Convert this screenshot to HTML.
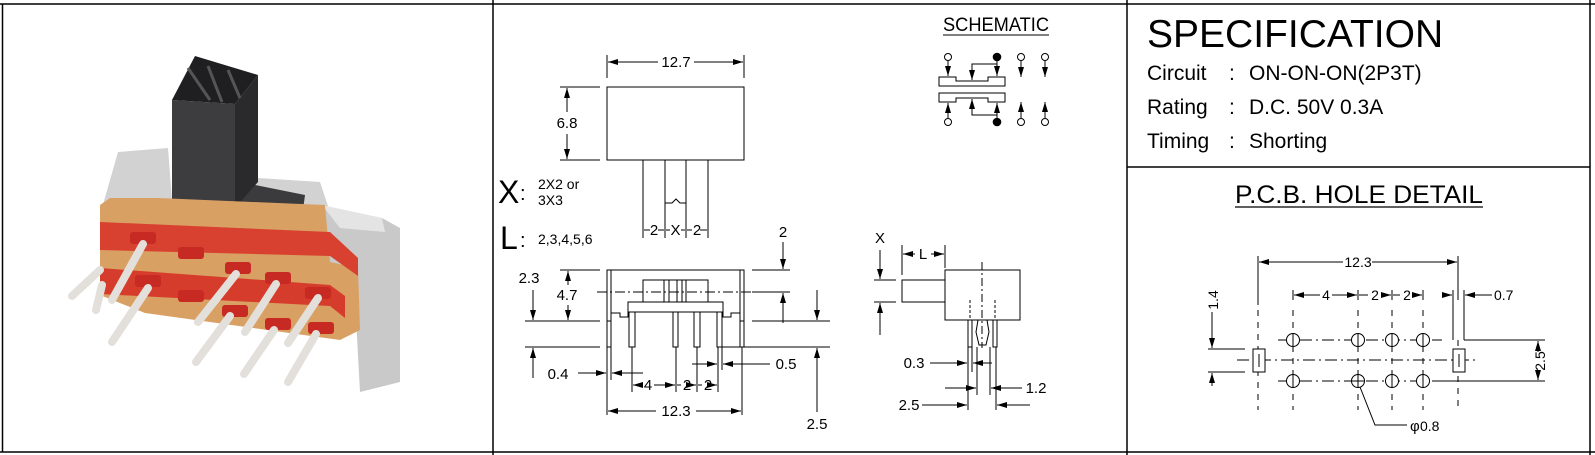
<!DOCTYPE html>
<html><head><meta charset="utf-8"><style>
html,body{margin:0;padding:0;background:#fff;}
svg{display:block;font-family:"Liberation Sans",sans-serif;}
</style></head><body>
<svg width="1595" height="455" viewBox="0 0 1595 455" xmlns="http://www.w3.org/2000/svg">
<defs>
<marker id="a" viewBox="0 0 10 6" refX="10" refY="3" markerWidth="10" markerHeight="6" orient="auto-start-reverse" markerUnits="userSpaceOnUse"><path d="M0,0 L10,3 L0,6 z" fill="#000"/></marker>
</defs>
<g stroke="#000" stroke-width="1.5" fill="none">
<line x1="0" y1="4" x2="1595" y2="4"/><line x1="0" y1="452" x2="1595" y2="452"/>
<line x1="2.5" y1="4" x2="2.5" y2="452"/><line x1="493" y1="0" x2="493" y2="455"/>
<line x1="1127" y1="0" x2="1127" y2="455"/><line x1="1590" y1="0" x2="1590" y2="455"/>
<line x1="1127" y1="167" x2="1590" y2="167"/>
</g>

<!-- PHOTO -->
<g>
<polygon points="100,215 118,152 168,148 172,200 258,178 320,182 330,212 100,222" fill="#d2d2d2"/>
<polygon points="240,182 305,195 300,232 240,225" fill="#3b3b3d"/>
<polygon points="172,100 235,104 235,208 172,203" fill="#3d3d40"/>
<polygon points="235,104 258,75 258,182 235,208" fill="#2a2a2c"/>
<polygon points="172,100 195,56 258,75 235,104" fill="#1f1f21"/>
<g stroke="#555" stroke-width="3"><line x1="188" y1="68" x2="210" y2="100"/><line x1="208" y1="66" x2="222" y2="102"/><line x1="228" y1="70" x2="240" y2="98"/></g>
<polygon points="318,205 382,218 400,228 400,382 360,392 355,300 325,262" fill="#c9c9c9"/>
<polygon points="322,205 382,218 385,232 340,228" fill="#e4e4e4"/>
<polygon points="100,205 110,198 158,198 325,205 330,262 358,268 360,330 340,340 145,313 100,295" fill="#d9a064"/>
<polygon points="100,222 330,232 358,258 358,276 330,256 100,250" fill="#d8412f"/>
<polygon points="100,268 330,285 345,296 345,318 330,306 100,294" fill="#d63c2c"/>
<g fill="#c62a22">
<rect x="130" y="232" width="26" height="12" rx="3"/><rect x="178" y="247" width="26" height="12" rx="3"/><rect x="225" y="262" width="26" height="12" rx="3"/><rect x="265" y="272" width="26" height="12" rx="3"/><rect x="305" y="287" width="26" height="12" rx="3"/>
<rect x="135" y="275" width="26" height="12" rx="3"/><rect x="178" y="290" width="26" height="12" rx="3"/><rect x="222" y="305" width="26" height="12" rx="3"/><rect x="265" y="318" width="26" height="12" rx="3"/><rect x="308" y="322" width="26" height="12" rx="3"/>
</g>
<g stroke="#e3e0dc" stroke-width="8" stroke-linecap="round">
<line x1="143" y1="244" x2="112" y2="300"/><line x1="148" y1="288" x2="112" y2="342"/>
<line x1="236" y1="274" x2="198" y2="322"/><line x1="230" y1="316" x2="196" y2="362"/>
<line x1="276" y1="284" x2="245" y2="332"/><line x1="274" y1="330" x2="244" y2="374"/>
<line x1="318" y1="298" x2="288" y2="343"/><line x1="316" y1="334" x2="288" y2="382"/>
<line x1="100" y1="270" x2="72" y2="296"/><line x1="102" y1="285" x2="96" y2="310"/>
</g>
</g>

<!-- MIDDLE DRAWING -->
<g stroke="#000" stroke-width="1" fill="none">
<rect x="607" y="87" width="137" height="73"/>
<line x1="607" y1="55" x2="607" y2="78"/><line x1="744" y1="55" x2="744" y2="78"/>
<line x1="608" y1="62" x2="658" y2="62" marker-start="url(#a)"/><line x1="694" y1="62" x2="743" y2="62" marker-end="url(#a)"/>
<line x1="560" y1="87" x2="600" y2="87"/><line x1="560" y1="160" x2="600" y2="160"/>
<line x1="567" y1="88" x2="567" y2="112" marker-start="url(#a)"/><line x1="567" y1="134" x2="567" y2="159" marker-end="url(#a)"/>
<line x1="643" y1="160" x2="643" y2="238"/><line x1="708" y1="160" x2="708" y2="238"/>
<polyline points="665,160 665,203 672,203 676,199 680,203 686,203 686,160"/>
<line x1="665" y1="203" x2="665" y2="238"/><line x1="686" y1="203" x2="686" y2="238"/>
<line x1="644" y1="230" x2="650" y2="230"/><line x1="658" y1="230" x2="664" y2="230"/><line x1="666" y1="230" x2="670" y2="230"/><line x1="681" y1="230" x2="685" y2="230"/><line x1="687" y1="230" x2="692" y2="230"/><line x1="700" y1="230" x2="707" y2="230"/>
<rect x="607" y="270" width="4" height="77"/><rect x="740" y="270" width="4" height="77"/>
<line x1="611" y1="270" x2="740" y2="270"/>
<rect x="643" y="280" width="65" height="22"/>
<line x1="664" y1="280" x2="664" y2="302"/><line x1="669" y1="280" x2="669" y2="302"/><line x1="677" y1="280" x2="677" y2="302"/><line x1="682" y1="280" x2="682" y2="302"/><line x1="686" y1="280" x2="686" y2="302"/>
<rect x="628" y="302" width="95" height="10"/>
<polyline points="611,313 620,313 620,317 628,317 628,312"/><polyline points="740,313 731,313 731,317 723,317 723,312"/>
<line x1="607" y1="321" x2="611" y2="321"/><line x1="740" y1="321" x2="744" y2="321"/>
<rect x="629" y="312" width="6" height="35"/><rect x="673" y="312" width="5" height="35"/><rect x="694" y="312" width="6" height="35"/><rect x="717" y="312" width="5" height="35"/>
<line x1="597" y1="292" x2="752" y2="292" stroke-dasharray="10,3,2,3"/>
<line x1="560" y1="270" x2="600" y2="270"/><line x1="525" y1="321" x2="600" y2="321"/><line x1="525" y1="347" x2="600" y2="347"/>
<line x1="533" y1="290" x2="533" y2="320" marker-end="url(#a)"/><line x1="533" y1="378" x2="533" y2="348" marker-end="url(#a)"/>
<line x1="568" y1="285" x2="568" y2="271" marker-end="url(#a)"/><line x1="568" y1="305" x2="568" y2="320" marker-end="url(#a)"/>
<line x1="752" y1="270" x2="790" y2="270"/><line x1="752" y1="292" x2="790" y2="292"/><line x1="752" y1="321" x2="830" y2="321"/><line x1="722" y1="347" x2="830" y2="347"/>
<line x1="783" y1="242" x2="783" y2="269" marker-end="url(#a)"/><line x1="783" y1="323" x2="783" y2="293" marker-end="url(#a)"/>
<line x1="817" y1="290" x2="817" y2="320" marker-end="url(#a)"/><line x1="817" y1="412" x2="817" y2="348" marker-end="url(#a)"/>
<line x1="607" y1="347" x2="607" y2="415"/><line x1="611" y1="347" x2="611" y2="380"/><line x1="632" y1="347" x2="632" y2="392"/>
<line x1="676" y1="347" x2="676" y2="392"/><line x1="697" y1="347" x2="697" y2="392"/><line x1="718" y1="347" x2="718" y2="392"/><line x1="722" y1="347" x2="722" y2="370"/><line x1="742" y1="347" x2="742" y2="415"/>
<line x1="578" y1="373" x2="606" y2="373" marker-end="url(#a)"/><line x1="643" y1="373" x2="612" y2="373" marker-end="url(#a)"/>
<line x1="633" y1="385" x2="642" y2="385" marker-start="url(#a)"/><line x1="654" y1="385" x2="675" y2="385" marker-end="url(#a)"/>
<line x1="677" y1="385" x2="681" y2="385"/><line x1="692" y1="385" x2="696" y2="385" marker-end="url(#a)"/><line x1="698" y1="385" x2="702" y2="385"/><line x1="713" y1="385" x2="717" y2="385" marker-end="url(#a)"/>
<line x1="692" y1="364" x2="717" y2="364" marker-end="url(#a)"/><line x1="770" y1="364" x2="723" y2="364" marker-end="url(#a)"/>
<line x1="608" y1="411" x2="656" y2="411" marker-start="url(#a)"/><line x1="696" y1="411" x2="741" y2="411" marker-end="url(#a)"/>
<rect x="945" y="270" width="75" height="50"/><rect x="902" y="280" width="43" height="22"/>
<line x1="982" y1="262" x2="982" y2="348" stroke-dasharray="8,3,2,3"/>
<line x1="874" y1="280" x2="896" y2="280"/><line x1="874" y1="302" x2="896" y2="302"/>
<line x1="880" y1="250" x2="880" y2="279" marker-end="url(#a)"/><line x1="880" y1="335" x2="880" y2="303" marker-end="url(#a)"/>
<line x1="902" y1="245" x2="902" y2="275"/><line x1="945" y1="245" x2="945" y2="268"/>
<line x1="903" y1="254" x2="915" y2="254" marker-start="url(#a)"/><line x1="931" y1="254" x2="944" y2="254" marker-end="url(#a)"/>
<rect x="968" y="320" width="4" height="27"/><rect x="993" y="320" width="4" height="27"/>
<line x1="970" y1="300" x2="970" y2="320" stroke-dasharray="3,2"/><line x1="995" y1="300" x2="995" y2="320" stroke-dasharray="3,2"/>
<polyline points="978,320 976,332 979,345 986,345 989,332 987,320"/>
<line x1="968" y1="347" x2="968" y2="410"/><line x1="972" y1="347" x2="972" y2="372"/><line x1="977" y1="347" x2="977" y2="395"/><line x1="990" y1="347" x2="990" y2="395"/><line x1="996" y1="347" x2="996" y2="410"/>
<line x1="930" y1="363" x2="967" y2="363" marker-end="url(#a)"/><line x1="992" y1="363" x2="973" y2="363" marker-end="url(#a)"/>
<line x1="945" y1="388" x2="976" y2="388" marker-end="url(#a)"/><line x1="1022" y1="388" x2="991" y2="388" marker-end="url(#a)"/>
<line x1="922" y1="405" x2="967" y2="405" marker-end="url(#a)"/><line x1="1030" y1="405" x2="997" y2="405" marker-end="url(#a)"/>
</g>
<g font-size="15" fill="#000">
<text x="676" y="67" text-anchor="middle">12.7</text>
<text x="567" y="128" text-anchor="middle">6.8</text>
<text x="654" y="235" text-anchor="middle">2</text><text x="675.5" y="235" text-anchor="middle">X</text><text x="697" y="235" text-anchor="middle">2</text>
<text x="529" y="283" text-anchor="middle">2.3</text><text x="567" y="300" text-anchor="middle">4.7</text>
<text x="783" y="237" text-anchor="middle">2</text>
<text x="558" y="379" text-anchor="middle">0.4</text><text x="786" y="369" text-anchor="middle">0.5</text>
<text x="648" y="390" text-anchor="middle">4</text><text x="687" y="390" text-anchor="middle">2</text><text x="708" y="390" text-anchor="middle">2</text>
<text x="676" y="416" text-anchor="middle">12.3</text><text x="817" y="429" text-anchor="middle">2.5</text>
<text x="880" y="243" text-anchor="middle">X</text><text x="923" y="259" text-anchor="middle">L</text>
<text x="914" y="368" text-anchor="middle">0.3</text><text x="1036" y="393" text-anchor="middle">1.2</text><text x="909" y="410" text-anchor="middle">2.5</text>
</g>
<text x="498" y="203" font-size="32">X</text><text x="520" y="200" font-size="20">:</text>
<text x="538" y="189" font-size="14">2X2 or</text><text x="538" y="205" font-size="14">3X3</text>
<text x="500" y="249" font-size="32">L</text><text x="520" y="247" font-size="20">:</text>
<text x="538" y="244" font-size="14">2,3,4,5,6</text>
<text x="996" y="31" font-size="19" text-anchor="middle" textLength="106" lengthAdjust="spacingAndGlyphs">SCHEMATIC</text>
<line x1="943" y1="35" x2="1049" y2="35" stroke="#000" stroke-width="1"/>
<g stroke="#000" stroke-width="1" fill="none">
<polygon points="939,77 956,77 956,81 988,81 988,77 1005,77 1005,86 939,86"/>
<polygon points="939,93 1005,93 1005,102 988,102 988,98 956,98 956,102 939,102"/>
<line x1="948" y1="61" x2="948" y2="76" marker-end="url(#a)"/><line x1="997" y1="61" x2="997" y2="76" marker-end="url(#a)"/>
<polyline points="997,64 972,64 972,80" marker-end="url(#a)"/>
<line x1="1021" y1="61" x2="1021" y2="77" marker-end="url(#a)"/><line x1="1045" y1="61" x2="1045" y2="77" marker-end="url(#a)"/>
<line x1="948" y1="118" x2="948" y2="103" marker-end="url(#a)"/><line x1="997" y1="118" x2="997" y2="103" marker-end="url(#a)"/>
<polyline points="997,115 972,115 972,99" marker-end="url(#a)"/>
<line x1="1021" y1="118" x2="1021" y2="102" marker-end="url(#a)"/><line x1="1045" y1="118" x2="1045" y2="102" marker-end="url(#a)"/>
<circle cx="948" cy="57" r="3.5" fill="#fff"/><circle cx="997" cy="57" r="3.8" fill="#000"/><circle cx="1021" cy="57" r="3.5" fill="#fff"/><circle cx="1045" cy="57" r="3.5" fill="#fff"/>
<circle cx="948" cy="122" r="3.5" fill="#fff"/><circle cx="997" cy="122" r="3.8" fill="#000"/><circle cx="1021" cy="122" r="3.5" fill="#fff"/><circle cx="1045" cy="122" r="3.5" fill="#fff"/>
</g>

<text x="1147" y="47" font-size="39">SPECIFICATION</text>
<g font-size="21">
<text x="1147" y="80">Circuit</text><text x="1229" y="80">:</text><text x="1249" y="80">ON-ON-ON(2P3T)</text>
<text x="1147" y="114">Rating</text><text x="1229" y="114">:</text><text x="1249" y="114">D.C. 50V 0.3A</text>
<text x="1147" y="148">Timing</text><text x="1229" y="148">:</text><text x="1249" y="148">Shorting</text>
</g>
<text x="1359" y="203" font-size="25" text-anchor="middle" textLength="248" lengthAdjust="spacingAndGlyphs">P.C.B. HOLE DETAIL</text>
<line x1="1235" y1="207" x2="1483" y2="207" stroke="#000" stroke-width="1.2"/>
<g stroke="#000" stroke-width="1" fill="none">
<g stroke-dasharray="6,6">
<line x1="1258" y1="310" x2="1258" y2="410"/><line x1="1293" y1="310" x2="1293" y2="410"/><line x1="1358" y1="310" x2="1358" y2="410"/><line x1="1392" y1="310" x2="1392" y2="410"/><line x1="1423" y1="310" x2="1423" y2="410"/><line x1="1458" y1="340" x2="1458" y2="410"/>
</g>
<g stroke-dasharray="12,4,2,4">
<line x1="1278" y1="340" x2="1442" y2="340"/><line x1="1278" y1="381" x2="1442" y2="381"/><line x1="1237" y1="360" x2="1475" y2="360"/>
</g>
<rect x="1253" y="349" width="12" height="23" fill="#fff"/><rect x="1453" y="349" width="12" height="23" fill="#fff"/>
<line x1="1259" y1="354" x2="1259" y2="367"/><line x1="1459" y1="354" x2="1459" y2="367"/>
<g fill="#fff"><circle cx="1293" cy="340" r="6.5"/><circle cx="1358" cy="340" r="6.5"/><circle cx="1392" cy="340" r="6.5"/><circle cx="1423" cy="340" r="6.5"/>
<circle cx="1293" cy="381" r="6.5"/><circle cx="1358" cy="381" r="6.5"/><circle cx="1392" cy="381" r="6.5"/><circle cx="1423" cy="381" r="6.5"/></g>
<g><line x1="1293" y1="333" x2="1293" y2="347"/><line x1="1358" y1="333" x2="1358" y2="347"/><line x1="1392" y1="333" x2="1392" y2="347"/><line x1="1423" y1="333" x2="1423" y2="347"/>
<line x1="1293" y1="374" x2="1293" y2="388"/><line x1="1358" y1="374" x2="1358" y2="388"/><line x1="1392" y1="374" x2="1392" y2="388"/><line x1="1423" y1="374" x2="1423" y2="388"/>
<line x1="1351" y1="381" x2="1365" y2="381"/></g>
<line x1="1258" y1="256" x2="1258" y2="305"/><line x1="1458" y1="256" x2="1458" y2="300"/><line x1="1453" y1="290" x2="1453" y2="340"/><line x1="1464" y1="290" x2="1464" y2="340"/>
<line x1="1259" y1="262" x2="1343" y2="262" marker-start="url(#a)"/><line x1="1372" y1="262" x2="1457" y2="262" marker-end="url(#a)"/>
<line x1="1293" y1="290" x2="1293" y2="300"/><line x1="1358" y1="290" x2="1358" y2="300"/><line x1="1392" y1="290" x2="1392" y2="300"/><line x1="1423" y1="290" x2="1423" y2="300"/>
<line x1="1294" y1="295" x2="1320" y2="295" marker-start="url(#a)"/><line x1="1332" y1="295" x2="1357" y2="295" marker-end="url(#a)"/>
<line x1="1359" y1="295" x2="1368" y2="295"/><line x1="1382" y1="295" x2="1391" y2="295" marker-end="url(#a)"/>
<line x1="1393" y1="295" x2="1400" y2="295"/><line x1="1414" y1="295" x2="1422" y2="295" marker-end="url(#a)"/>
<line x1="1444" y1="295" x2="1452" y2="295" marker-end="url(#a)"/><line x1="1492" y1="295" x2="1465" y2="295" marker-end="url(#a)"/>
<line x1="1464" y1="340" x2="1545" y2="340"/><line x1="1440" y1="381" x2="1545" y2="381"/>
<line x1="1538" y1="341" x2="1538" y2="352" marker-start="url(#a)"/><line x1="1538" y1="370" x2="1538" y2="380" marker-end="url(#a)"/>
<line x1="1208" y1="349" x2="1245" y2="349"/><line x1="1208" y1="372" x2="1245" y2="372"/>
<line x1="1212" y1="312" x2="1212" y2="348" marker-end="url(#a)"/><line x1="1212" y1="386" x2="1212" y2="373" marker-end="url(#a)"/>
<polyline points="1360,387 1375,425 1407,425"/>
</g>
<g font-size="14">
<text x="1358" y="267" text-anchor="middle">12.3</text>
<text x="1326" y="300" text-anchor="middle">4</text><text x="1375" y="300" text-anchor="middle">2</text><text x="1407" y="300" text-anchor="middle">2</text>
<text x="1494" y="300">0.7</text>
<text x="1410" y="431" font-size="15">φ</text><text x="1420" y="431">0.8</text>
<text transform="translate(1545,361) rotate(-90)" text-anchor="middle">2.5</text>
<text transform="translate(1218,300) rotate(-90)" text-anchor="middle">1.4</text>
</g>
</svg>
</body></html>
